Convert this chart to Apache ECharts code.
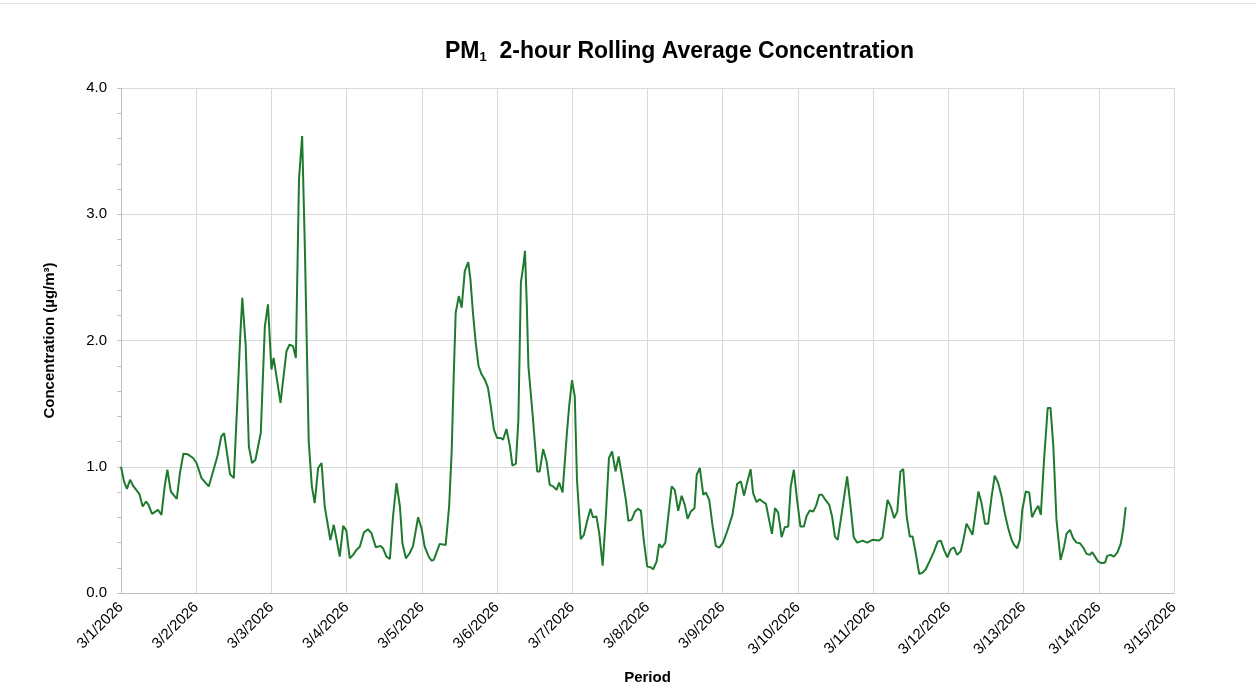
<!DOCTYPE html>
<html>
<head>
<meta charset="utf-8">
<script src="https://cdn.jsdelivr.net/npm/echarts@6/dist/echarts.min.js"></script>
<style>
html,body{margin:0;padding:0;background:#fff;}
#top{position:absolute;left:0;top:3px;width:1256px;height:1px;background:#e3e3e3;}
#c{width:1256px;height:691px;}
</style>
</head>
<body>
<div id="top"></div>
<div id="c"></div>
<script>
// hours since 3/1/2026 00:00
const hours = [0.0,1.0,1.9,2.9,4.0,5.9,6.9,8.0,8.8,9.9,11.8,12.9,14.0,14.8,15.9,17.8,18.8,19.9,21.2,23.0,24.1,25.7,28.0,29.7,30.8,32.0,32.9,34.8,36.0,37.2,38.0,38.7,39.8,40.8,41.8,42.9,44.6,45.9,46.9,48.0,48.7,50.9,52.8,53.8,54.9,55.8,56.8,57.8,58.7,59.9,60.9,61.8,62.9,64.0,65.0,66.8,67.9,69.8,70.9,71.9,73.0,74.0,75.1,76.2,77.5,78.8,79.9,81.3,82.8,83.6,84.7,85.8,86.8,87.9,89.0,89.8,90.9,92.1,93.2,94.8,95.9,96.9,98.3,99.1,99.8,101.7,103.6,104.7,105.5,106.2,106.8,107.8,108.7,109.7,110.8,111.5,112.3,113.2,114.1,115.1,116.1,117.1,118.0,119.0,120.0,121.2,121.9,123.0,124.1,124.9,126.0,126.8,127.6,128.5,128.9,129.5,130.0,131.3,132.8,133.6,134.7,135.8,136.8,137.9,139.0,139.8,140.9,142.2,143.0,143.9,144.8,145.5,146.7,147.7,148.7,149.8,150.6,151.7,152.6,153.7,154.7,155.7,156.7,157.8,158.8,159.9,161.1,161.9,162.9,164.0,165.0,165.9,166.8,167.9,169.0,169.8,170.9,171.7,172.6,173.7,175.7,176.7,177.8,178.9,179.9,180.8,181.8,183.0,183.7,184.7,185.8,186.6,187.7,188.8,189.8,190.9,192.1,193.4,195.1,196.6,197.8,198.8,199.8,200.9,201.7,202.8,203.8,204.7,205.8,206.8,207.7,208.7,209.7,210.8,211.8,212.9,213.7,214.7,215.6,216.8,217.9,218.8,219.8,220.9,221.9,222.8,223.7,224.9,226.0,226.9,227.8,228.7,229.9,231.7,232.8,233.8,234.9,236.6,238.1,239.8,241.9,243.0,244.6,245.7,246.7,247.7,248.7,249.6,250.7,251.7,252.6,253.6,254.7,255.8,256.8,258.1,259.4,260.6,261.6,262.7,263.7,264.8,265.8,266.8,267.9,268.7,269.8,270.9,271.7,272.8,273.6,274.6,275.7,276.7,277.8,278.8,279.9,281.0,282.0,283.1,284.2,285.0,286.0,286.8,287.6,288.7,289.8,290.7,291.7,292.7,293.5,294.5,295.7,296.6,297.5,298.5,299.8,300.9,301.7,302.8,303.8,304.9,306.0,307.0,308.1,309.2,309.9,310.8,311.8,312.9,314.0,314.7,315.8,316.8,317.9,319.0,319.8,320.6];
const pm1 = [1.00,0.88,0.825,0.897,0.844,0.783,0.685,0.725,0.698,0.627,0.659,0.619,0.857,0.976,0.804,0.746,0.95,1.103,1.10,1.069,1.03,0.91,0.844,0.99,1.087,1.24,1.267,0.94,0.91,1.558,2.008,2.339,1.955,1.16,1.03,1.056,1.267,2.11,2.286,1.77,1.862,1.506,1.915,1.968,1.955,1.862,3.278,3.62,2.7,1.2,0.844,0.712,0.99,1.03,0.685,0.42,0.54,0.288,0.532,0.494,0.275,0.30,0.341,0.367,0.479,0.505,0.474,0.362,0.373,0.355,0.288,0.27,0.606,0.87,0.685,0.394,0.275,0.315,0.373,0.60,0.513,0.367,0.283,0.256,0.262,0.389,0.381,0.685,1.109,1.744,2.22,2.352,2.26,2.55,2.62,2.484,2.22,1.98,1.796,1.73,1.69,1.625,1.479,1.294,1.228,1.228,1.214,1.299,1.161,1.008,1.024,1.373,2.458,2.617,2.71,2.272,1.796,1.426,0.963,0.963,1.14,1.042,0.857,0.844,0.817,0.875,0.796,1.24,1.479,1.685,1.558,0.897,0.426,0.46,0.566,0.667,0.60,0.606,0.474,0.217,0.606,1.069,1.121,0.963,1.082,0.923,0.738,0.571,0.579,0.645,0.667,0.653,0.421,0.209,0.204,0.188,0.249,0.386,0.36,0.399,0.844,0.817,0.651,0.77,0.698,0.587,0.645,0.672,0.937,0.99,0.778,0.796,0.738,0.526,0.373,0.36,0.399,0.487,0.619,0.865,0.884,0.772,0.875,0.981,0.791,0.72,0.743,0.725,0.706,0.579,0.468,0.672,0.637,0.442,0.521,0.526,0.844,0.976,0.764,0.526,0.526,0.611,0.653,0.645,0.698,0.778,0.778,0.733,0.698,0.606,0.447,0.421,0.619,0.923,0.685,0.442,0.399,0.415,0.399,0.421,0.415,0.442,0.738,0.68,0.593,0.645,0.963,0.981,0.606,0.447,0.447,0.315,0.151,0.161,0.188,0.256,0.328,0.407,0.415,0.336,0.283,0.347,0.362,0.302,0.328,0.407,0.548,0.50,0.46,0.659,0.804,0.712,0.548,0.548,0.764,0.929,0.871,0.764,0.632,0.513,0.421,0.38,0.355,0.421,0.659,0.804,0.796,0.60,0.653,0.69,0.619,1.042,1.466,1.466,1.161,0.579,0.262,0.367,0.468,0.50,0.434,0.399,0.394,0.362,0.31,0.302,0.323,0.288,0.249,0.236,0.241,0.294,0.302,0.288,0.32,0.389,0.505,0.68];
const dayLabels = ['3/1/2026','3/2/2026','3/3/2026','3/4/2026','3/5/2026','3/6/2026','3/7/2026','3/8/2026','3/9/2026','3/10/2026','3/11/2026','3/12/2026','3/13/2026','3/14/2026','3/15/2026'];
const yTicks = [0, 1, 2, 3, 4];

const chart = echarts.init(document.getElementById('c'));
const font = '"Liberation Sans", Arial, sans-serif';
chart.setOption({
  animation: false,
  textStyle: { fontFamily: font },
  title: {
    text: 'PM{sub|1}  2-hour Rolling Average Concentration',
    left: 440, top: 34,
    textStyle: {
      fontFamily: font, fontSize: 23, fontWeight: 'bold', color: '#000',
      rich: { sub: { fontFamily: font, fontSize: 13, fontWeight: 'bold', color: '#000', verticalAlign: 'bottom', padding: [12, 0, 0, 0] } }
    }
  },
  grid: { left: 121, right: 82, top: 88, bottom: 98, containLabel: false },
  xAxis: {
    type: 'value', min: 0, max: (dayLabels.length - 1) * 24, interval: 24,
    name: 'Period', nameLocation: 'middle', nameGap: 77,
    nameTextStyle: { fontFamily: font, fontSize: 15, fontWeight: 'bold', color: '#000' },
    axisLine: { show: true, lineStyle: { color: '#bfbfbf', width: 1 } },
    axisTick: { show: false },
    splitLine: { show: true, lineStyle: { color: '#d9d9d9', width: 1 } },
    axisLabel: {
      rotate: 45, fontFamily: font, fontSize: 15, color: '#000', margin: 12,
      formatter: v => dayLabels[Math.round(v / 24)] || ''
    }
  },
  yAxis: {
    type: 'value', min: yTicks[0], max: yTicks[yTicks.length - 1], interval: 1,
    name: 'Concentration (µg/m³)', nameLocation: 'middle', nameGap: 64,
    nameTextStyle: { fontFamily: font, fontSize: 15, fontWeight: 'bold', color: '#000' },
    axisLine: { show: true, lineStyle: { color: '#bfbfbf', width: 1 } },
    axisTick: { show: true, length: 4, lineStyle: { color: '#bfbfbf' } },
    minorTick: { show: true, splitNumber: 5, length: 4, lineStyle: { color: '#bfbfbf' } },
    splitLine: { show: true, lineStyle: { color: '#d9d9d9', width: 1 } },
    axisLabel: { fontFamily: font, fontSize: 15, color: '#000', margin: 14, formatter: v => v.toFixed(1) }
  },
  series: [{
    type: 'line',
    data: hours.map((h, i) => [h, pm1[i]]),
    showSymbol: false,
    smooth: false,
    lineStyle: { color: '#1e7a2e', width: 2 },
    itemStyle: { color: '#1e7a2e' }
  }]
});
</script>
</body>
</html>
